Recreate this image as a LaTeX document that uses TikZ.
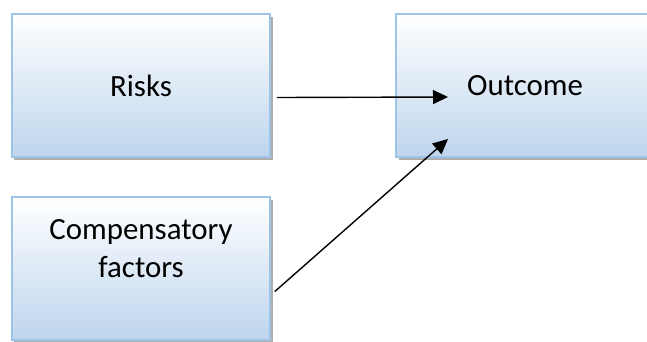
\documentclass[tikz,border=0pt]{standalone}
\usepackage{fontspec}
\setmainfont{Carlito}
\usetikzlibrary{shadows,arrows.meta,calc}
\definecolor{boxedge}{RGB}{157,195,230}
\definecolor{boxfill}{RGB}{190,213,237}
\tikzset{
  box/.style={rectangle, draw=boxedge, line width=1.6bp,
    top color=white, bottom color=boxfill,
    minimum width=258bp, minimum height=143bp, inner sep=0pt,
    drop shadow={shadow xshift=2.5bp, shadow yshift=-3bp, fill=black!45, opacity=0.7},
    font=\fontsize{31}{38}\selectfont, align=center},
  label text/.style={font=\fontsize{31}{38}\selectfont, align=center, inner sep=0pt},
  link/.style={line width=1.4bp, -{Triangle[length=15bp,width=14bp]}}
}
\begin{document}
\begin{tikzpicture}[x=1bp,y=-1bp]
  \useasboundingbox (0,0) rectangle (647,341);
  \clip (0,0) rectangle (647,341);
  % boxes
  \node[box] (risks) at (141,85.5) {Risks};
  \node[box] (outcome) at (525,85.5) {Outcome};
  \node[box] (comp) at (141,268.5) {};
  \node[label text] (comptext) at (141,249) {Compensatory\\factors};
  % arrow end points
  \coordinate (r0) at ($(risks.east)+(6bp,-12bp)$);
  \coordinate (r1) at (448,97);
  \coordinate (c0) at ($(comp.east)+(4bp,-23bp)$);
  \coordinate (c1) at (448,139);
  \draw[link] (r0) -- (r1);
  \draw[link] (c0) -- (c1);
\end{tikzpicture}
\end{document}
